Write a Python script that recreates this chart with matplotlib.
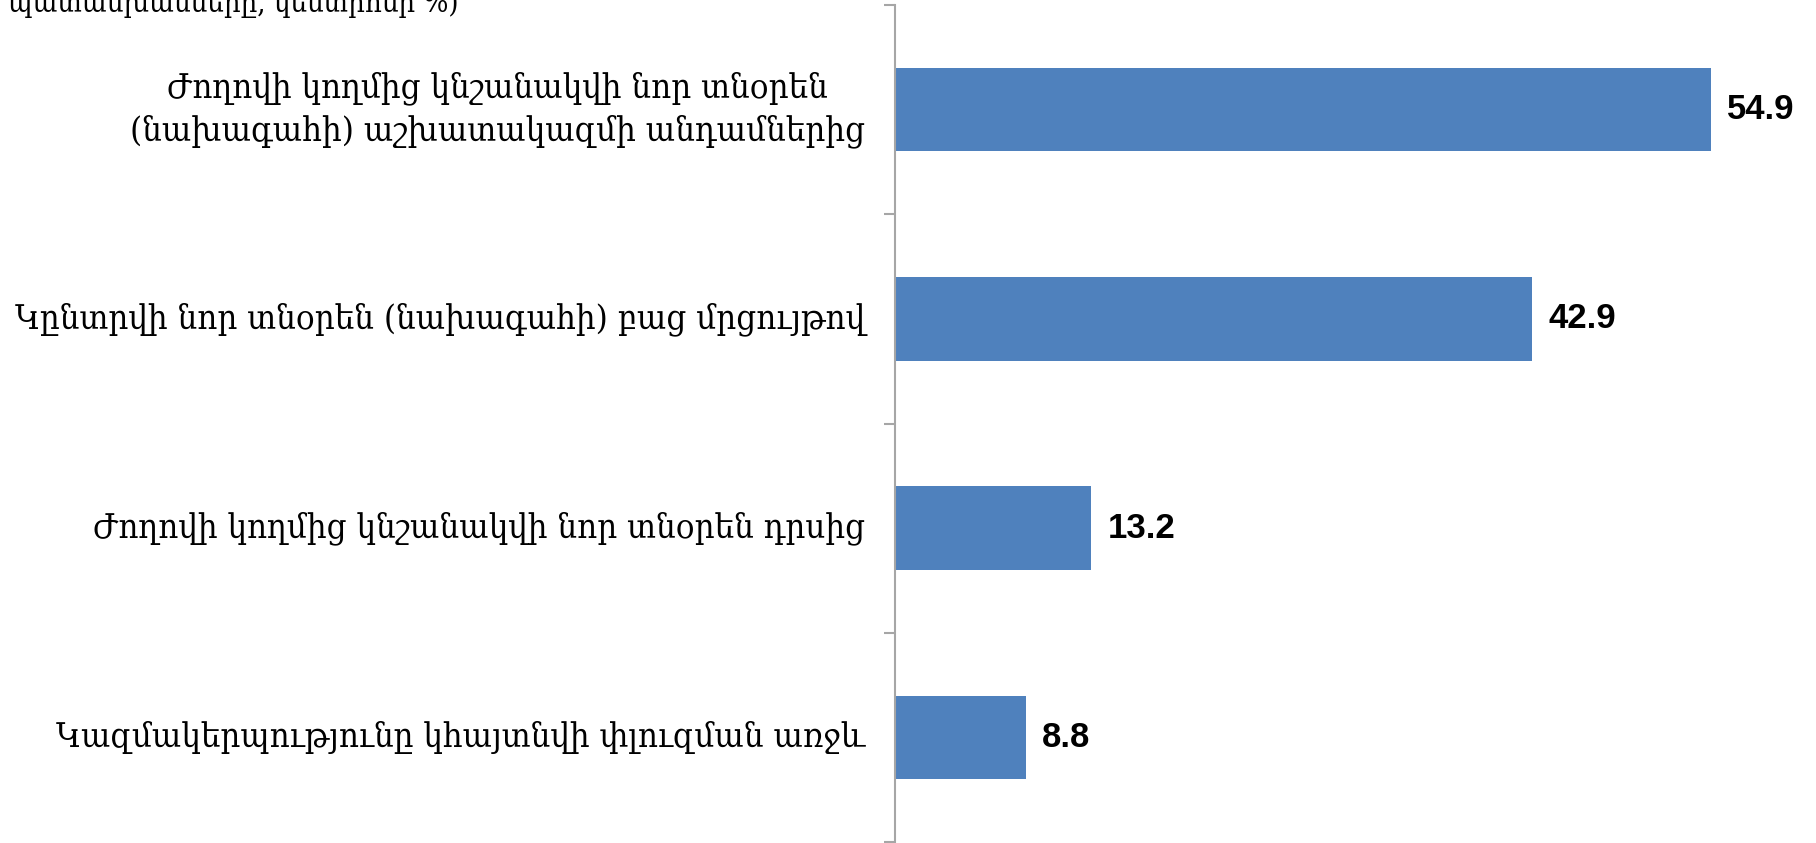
import matplotlib

matplotlib.use("Agg")
import matplotlib.pyplot as plt
import numpy as np

# categories, top to bottom as shown
categories = [
    "Ժողովի կողմից կնշանակվի նոր տնօրեն\n(նախագահի) աշխատակազմի անդամներից",
    "Կընտրվի նոր տնօրեն (նախագահի) բաց մրցույթով",
    "Ժողովի կողմից կնշանակվի նոր տնօրեն դրսից",
    "Կազմակերպությունը կհայտնվի փլուզման առջև",
]
values = [54.9, 42.9, 13.2, 8.8]
title_tail = "պատասխանները, կենտրոնի %)"

bar_color = "#4f81bd"
spine_color = "#a6a6a6"
label_font = ["DejaVu Serif", "DejaVu Sans"]

fig = plt.figure(figsize=(18.16, 8.43), dpi=100)
ax = fig.add_axes([895 / 1816, 1 - 842 / 843, 1 - 895 / 1816, 837 / 843])

y = np.arange(len(categories))
ax.barh(y, values, height=0.4, color=bar_color)
ax.set_ylim(len(categories) - 0.5, -0.5)
ax.set_xlim(0, 62)

for yi, v in zip(y, values):
    ax.text(v + 1.1, yi, f"{v:.1f}", va="center", ha="left",
            fontsize=25, fontweight="bold", family="Liberation Sans")

ax.set_yticks(np.arange(len(categories) + 1) - 0.5)
ax.set_yticklabels([])
ax.tick_params(axis="y", length=8, width=1.5, color=spine_color)
ax.set_xticks([])
for yi, lab in zip(y, categories):
    ax.text(-2.0, yi, lab, ha="right", va="center", multialignment="center",
            fontsize=24.8, family=label_font, fontstretch="condensed",
            linespacing=1.35)

for s in ["top", "right", "bottom"]:
    ax.spines[s].set_visible(False)
ax.spines["left"].set_color(spine_color)
ax.spines["left"].set_linewidth(1.5)

fig.text(8 / 1816, 1 - 12 / 843, title_tail, ha="left", va="baseline",
         fontsize=21, family=label_font, fontstretch="condensed")

fig.savefig("out.png", dpi=100)
